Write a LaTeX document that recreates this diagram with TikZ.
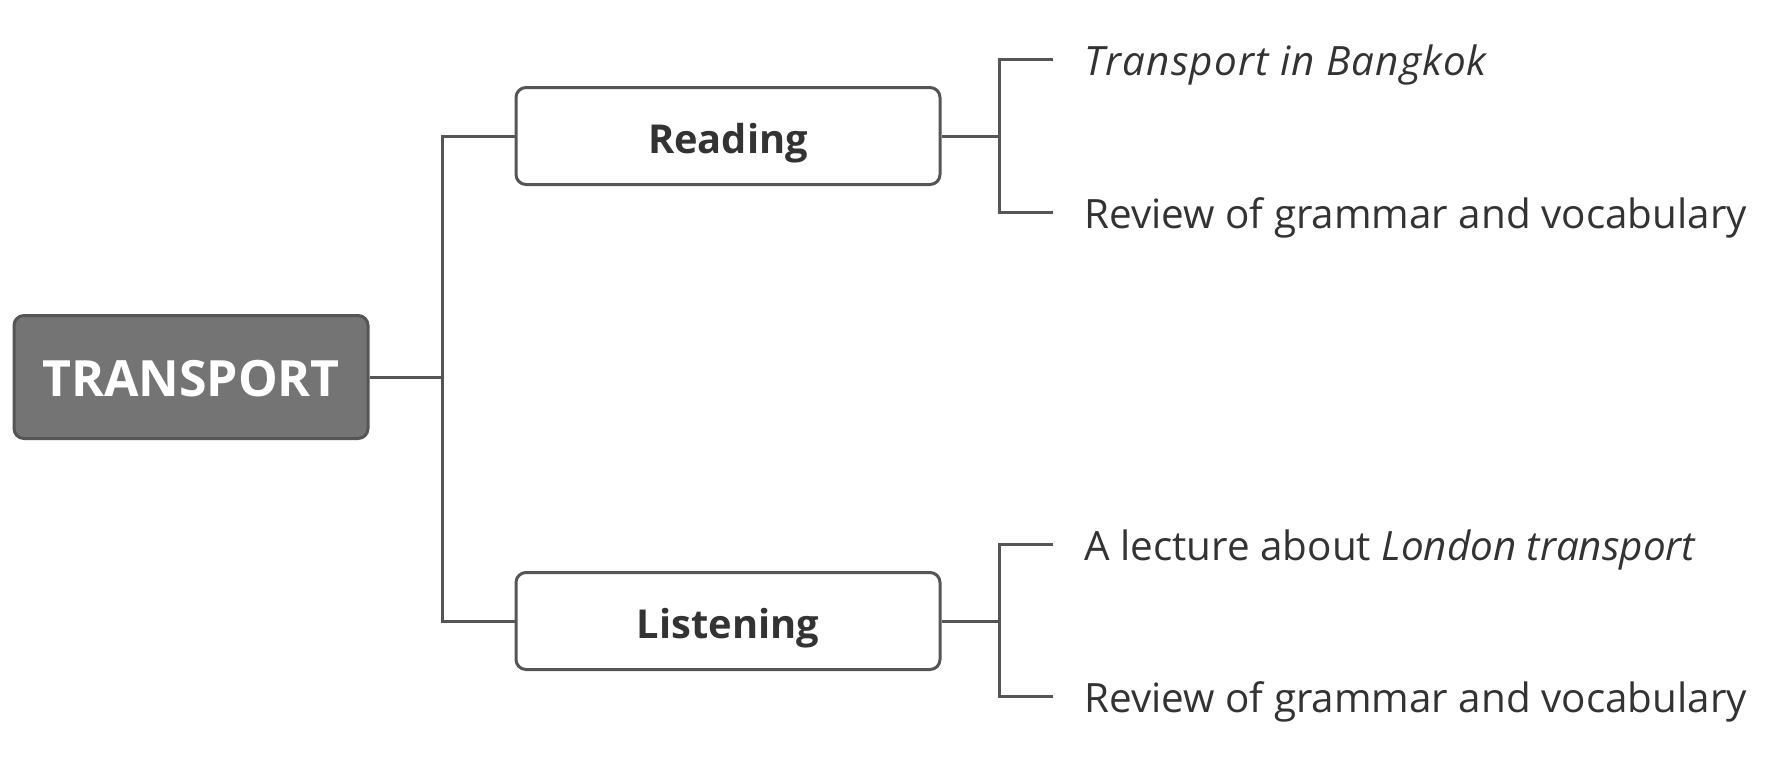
\documentclass[tikz,border=0pt]{standalone}
\usepackage{fontspec}
\setmainfont{Open Sans}
\definecolor{lineC}{HTML}{555555}
\definecolor{txtC}{HTML}{333333}
\definecolor{rootF}{HTML}{747474}
\begin{document}
\begin{tikzpicture}[x=0.5pt,y=-0.5pt,
  conn/.style={draw=lineC,line width=1.5pt},
  rootbox/.style={draw=lineC,fill=rootF,line width=1.5pt,rounded corners=5pt,minimum width=177pt,minimum height=61.5pt,inner sep=0pt,text height=20pt,text depth=1pt,text=white,font=\fontsize{25}{29}\selectfont\bfseries},
  subbox/.style={draw=lineC,fill=white,line width=1.5pt,rounded corners=5pt,minimum width=212pt,minimum height=48.5pt,inner sep=0pt,text height=22pt,text depth=5pt,text=txtC,font=\fontsize{19.9}{23}\selectfont\bfseries},
  leaf/.style={anchor=west,inner sep=0pt,text height=17.5pt,text depth=1pt,text=txtC,font=\fontsize{20.2}{24}\selectfont}]
\useasboundingbox (0,0) rectangle (1770,756);
\node[rootbox] (root) at (191,377) {TRANSPORT};
\node[subbox] (reading) at (728,136) {Reading};
\node[subbox] (listening) at (728,621) {Listening};
\coordinate (t) at (442,377);
\coordinate (b1) at (999,136);
\coordinate (b2) at (999,621);
\node[leaf] (l1) at (1084,59) {\itshape\addfontfeatures{LetterSpace=2.8}Transport in Bangkok};
\node[leaf] (l2) at (1084,212) {Review of grammar and vocabulary};
\node[leaf] (l3) at (1084,544) {A lecture about \textit{London transport}};
\node[leaf] (l4) at (1084,696) {Review of grammar and vocabulary};
\draw[conn] (root.east) -- (t);
\draw[conn] (reading.west) -- (reading.west -| t) -- (listening.west -| t) -- (listening.west);
\draw[conn] (reading.east) -- (b1);
\draw[conn] ([xshift=-15.5pt]l1.west) -- (l1.west -| b1) -- (l2.west -| b1) -- ([xshift=-15.5pt]l2.west);
\draw[conn] (listening.east) -- (b2);
\draw[conn] ([xshift=-15.5pt]l3.west) -- (l3.west -| b2) -- (l4.west -| b2) -- ([xshift=-15.5pt]l4.west);
\end{tikzpicture}
\end{document}
